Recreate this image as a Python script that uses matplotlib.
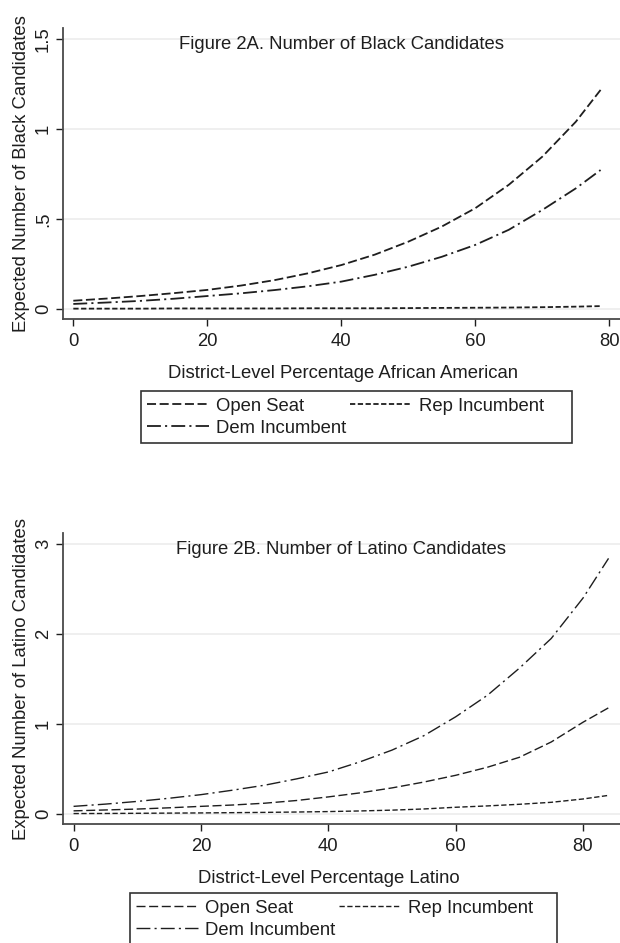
import matplotlib
matplotlib.use("Agg")
import matplotlib.pyplot as plt
from matplotlib.patches import Rectangle

plt.rcParams['font.family'] = ['Liberation Sans', 'DejaVu Sans']
plt.rcParams['lines.scale_dashes'] = False

# predicted counts, Figure 2A (black candidates)
black_x = [0, 5, 10, 15, 20, 25, 30, 35, 40, 45, 50, 55, 60, 65, 70, 75, 78.7]
black_open = [0.046, 0.058, 0.072, 0.088, 0.106, 0.13, 0.16, 0.198, 0.244, 0.302,
              0.374, 0.458, 0.56, 0.69, 0.846, 1.04, 1.217]
black_rep = [0.002, 0.002, 0.002, 0.003, 0.003, 0.003, 0.003, 0.004, 0.004, 0.004,
             0.005, 0.006, 0.007, 0.008, 0.010, 0.013, 0.016]
black_dem = [0.028, 0.036, 0.045, 0.057, 0.072, 0.087, 0.105, 0.126, 0.152, 0.19,
             0.235, 0.29, 0.356, 0.44, 0.55, 0.67, 0.772]

# predicted counts, Figure 2B (latino candidates)
latino_x = [0, 5, 10, 15, 20, 25, 30, 35, 40, 45, 50, 55, 60, 65, 70, 75, 80, 84]
latino_open = [0.035, 0.045, 0.055, 0.069, 0.085, 0.1, 0.12, 0.15, 0.19, 0.235,
               0.29, 0.355, 0.43, 0.52, 0.63, 0.8, 1.02, 1.18]
latino_rep = [0.005, 0.006, 0.008, 0.01, 0.012, 0.015, 0.018, 0.022, 0.027, 0.034,
              0.043, 0.056, 0.075, 0.09, 0.108, 0.13, 0.167, 0.207]
latino_dem = [0.085, 0.11, 0.14, 0.175, 0.215, 0.265, 0.32, 0.39, 0.467, 0.58,
              0.71, 0.87, 1.08, 1.32, 1.62, 1.95, 2.4, 2.84]

x_ticks = [0, 20, 40, 60, 80]
black_yticks = [0, 0.5, 1, 1.5]
black_ylabels = ['0', '.5', '1', '1.5']
latino_yticks = [0, 1, 2, 3]
latino_ylabels = ['0', '1', '2', '3']

FS = 13.3
INK = '#1e1e1e'
W, H = 620, 943

fig = plt.figure(figsize=(W / 100, H / 100), dpi=100)

dash_open = (0, (6.5, 2.6))
dash_rep = (0, (3.8, 1.8))
dash_dem = (0, (10, 3, 1.5, 3))


def panel(rect, xs, ys_open, ys_rep, ys_dem, xlim, ylim, yticks, ylabels,
          title, xlabel, ylabel, ylabel_x, xlabel_x, lw, leg_box):
    ax = fig.add_axes(rect)
    l1, = ax.plot(xs, ys_open, color=INK, lw=lw, linestyle=dash_open, label='Open Seat')
    l2, = ax.plot(xs, ys_rep, color=INK, lw=lw, linestyle=dash_rep, label='Rep Incumbent')
    l3, = ax.plot(xs, ys_dem, color=INK, lw=lw, linestyle=dash_dem, label='Dem Incumbent')
    ax.set_xlim(*xlim)
    ax.set_ylim(*ylim)
    ax.set_xticks(x_ticks)
    ax.set_yticks(yticks)
    ax.set_yticklabels(ylabels)
    ax.grid(axis='y', color='#ececec', lw=1.2)
    ax.set_axisbelow(True)
    for s in ('top', 'right'):
        ax.spines[s].set_visible(False)
    for s in ('left', 'bottom'):
        ax.spines[s].set_color('#4a4a4a')
        ax.spines[s].set_linewidth(1.3)
    ax.tick_params(axis='both', labelsize=FS, colors=INK, length=5, width=1, pad=5)
    ax.tick_params(axis='y', labelrotation=90, pad=3)
    for t in ax.get_yticklabels():
        t.set_va('center')
    ax.text(0.5, 0.942, title, transform=ax.transAxes, ha='center', va='center',
            fontsize=FS, color=INK)
    ax.set_xlabel(xlabel, fontsize=FS, color=INK)
    ax.xaxis.set_label_coords(xlabel_x, -0.158)
    ax.set_ylabel(ylabel, fontsize=FS, color=INK)
    ax.yaxis.set_label_coords(ylabel_x, 0.5)

    # legend box below the axis title
    bx0, by0, bx1, by1 = leg_box
    fig.patches.append(Rectangle((bx0 / W, 1 - by1 / H), (bx1 - bx0) / W, (by1 - by0) / H,
                                 transform=fig.transFigure, fill=False,
                                 edgecolor='#333333', lw=1.2))
    ax.legend([l1, l3, l2], ['Open Seat', 'Dem Incumbent', 'Rep Incumbent'],
              ncol=2, loc='upper left', frameon=False, fontsize=FS,
              bbox_to_anchor=((bx0 + 1) / W, 1 - (by0 + 2) / H),
              bbox_transform=fig.transFigure, borderaxespad=0, borderpad=0.25,
              handlelength=3.35, handletextpad=0.43, columnspacing=0.16,
              labelspacing=0.28, labelcolor=INK)
    return ax


panel([63 / W, 1 - 319 / H, 557 / W, 291 / H], black_x, black_open, black_rep, black_dem,
      (-1.54, 81.6), (-0.0556, 1.561), black_yticks, black_ylabels,
      'Figure 2A. Number of Black Candidates',
      'District-Level Percentage African American',
      'Expected Number of Black Candidates', -0.059, 0.503, 1.3,
      (141, 391, 572, 443))

panel([63 / W, 1 - 824 / H, 557 / W, 291 / H], latino_x, latino_open, latino_rep, latino_dem,
      (-1.66, 85.8), (-0.111, 3.122), latino_yticks, latino_ylabels,
      'Figure 2B. Number of Latino Candidates',
      'District-Level Percentage Latino',
      'Expected Number of Latino Candidates', -0.059, 0.478, 1.0,
      (130, 893, 557, 945))

fig.savefig('out.png', dpi=100)
